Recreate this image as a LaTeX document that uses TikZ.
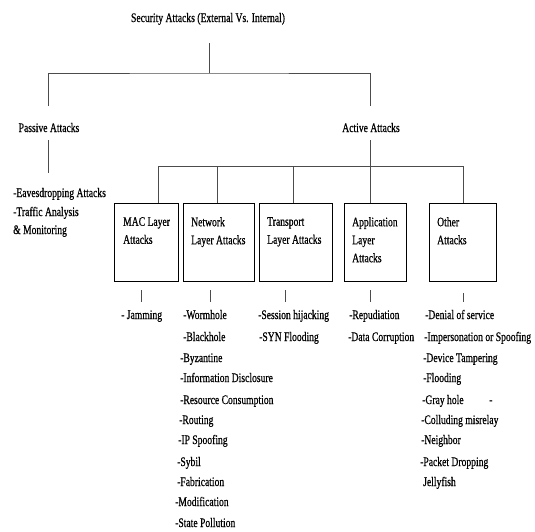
\documentclass[tikz,border=0pt]{standalone}
\usepackage{fontspec}
\setmainfont{Liberation Serif}[FakeStretch=0.74, FakeBold=0.6]
\usetikzlibrary{positioning}
\tikzset{link/.style = {draw=black!70, line width=0.8pt}}
\tikzset{layerbox/.style = {draw, line width=1.2pt, minimum height=78pt, inner sep=0pt, anchor=north west}}
\tikzset{boxtext/.style = {anchor=north west, align=left, inner sep=0pt}}
\tikzset{item/.style = {anchor=base west, inner sep=0pt}}

\begin{document}
\begin{tikzpicture}[x=1pt, y=-1pt, font=\fontsize{13}{18}\selectfont]
        \useasboundingbox (0,0) rectangle (535,531);

        % Headings
        \node[anchor=base, inner sep=0pt] (title) at (208,22) {Security Attacks (External Vs. Internal)};
        \node[anchor=base, inner sep=0pt] (passive) at (49,132) {Passive Attacks};
        \node[anchor=base, inner sep=0pt] (active) at (371,132) {Active Attacks};

        % Layer boxes
        \node[layerbox, minimum width=64pt] (mac) at (114,203) {};
        \node[layerbox, minimum width=71pt] (net) at (183,203) {};
        \node[layerbox, minimum width=73pt] (trans) at (259,203) {};
        \node[layerbox, minimum width=62pt] (app) at (344,203) {};
        \node[layerbox, minimum width=67pt] (other) at (429,203) {};

        \node[boxtext] (macT) at ([shift={(9,14)}]mac.north west) {MAC Layer\\Attacks};
        \node[boxtext] (netT) at ([shift={(8,14)}]net.north west) {Network\\Layer Attacks};
        \node[boxtext] (transT) at ([shift={(8,14)}]trans.north west) {Transport\\Layer Attacks};
        \node[boxtext] (appT) at ([shift={(8,14)}]app.north west) {Application\\Layer\\Attacks};
        \node[boxtext] (otherT) at ([shift={(8,14)}]other.north west) {Other\\Attacks};

        % Tree lines
        \coordinate (titleDown) at (209,43);
        \coordinate (bar) at (209,73);
        \coordinate (pasUp) at (48,106);
        \coordinate (actUp) at (370,106);
        \coordinate (pasDown) at (48,140);
        \coordinate (pasEnd) at (48,173);
        \coordinate (actDown) at (370,140);
        \draw[link] (titleDown) -- (bar);
        \draw[link] (pasUp) |- (bar) -| (actUp);
        \draw[link] (pasDown) -- (pasEnd);

        \foreach \n/\x in {mac/158, net/217, trans/293, app/370, other/463}{
            \coordinate (\n-up) at (\x,166);
            \draw[link] (\n-up) -- (\n-up |- \n.north);
        }
        \draw[link] (mac-up) -- (other-up);
        \draw[link] (actDown) -- (app-up);

        % Ticks under the boxes
        \foreach \n/\x/\a in {mac/141/290, net/210/290, trans/285/290, app/370/290, other/463/293}{
            \coordinate (\n-a) at (\x,\a);
            \coordinate (\n-b) at (\x,302);
            \draw[link] (\n-a) -- (\n-b);
        }

        % Lists
        \foreach \i/\x/\y/\t in {1/13/197/-Eavesdropping Attacks, 2/13/216/-Traffic Analysis, 3/13/234/\& Monitoring}
            \node[item] (pas\i) at (\x,\y) {\t};
        \node[item] (mac1) at (121,319) {- Jamming};
        \foreach \i/\x/\y/\t in {1/183/319/-Wormhole, 2/183/341/-Blackhole, 3/180/362/-Byzantine,
                4/180/382/-Information Disclosure, 5/180/404/-Resource Consumption, 6/179/424/-Routing,
                7/178/444/-IP Spoofing, 8/177/466/-Sybil, 9/177/486/-Fabrication,
                10/175/506/-Modification, 11/175/527/-State Pollution}
            \node[item] (net\i) at (\x,\y) {\t};
        \node[item] (trans1) at (258,319) {-Session hijacking};
        \node[item] (trans2) at (259,341) {-SYN Flooding};
        \node[item] (app1) at (349,319) {-Repudiation};
        \node[item] (app2) at (348,341) {-Data Corruption};
        \foreach \i/\x/\y/\t in {1/425/319/-Denial of service, 2/424/341/-Impersonation or Spoofing,
                3/423/362/-Device Tampering, 4/423/382/-Flooding, 5/422/404/-Gray hole,
                6/421/424/-Colluding misrelay, 7/421/444/-Neighbor, 8/420/466/-Packet Dropping,
                9/423/486/Jellyfish}
            \node[item] (other\i) at (\x,\y) {\t};
        \node[item] (dash) at (489,404) {-};
    \end{tikzpicture}
\end{document}
